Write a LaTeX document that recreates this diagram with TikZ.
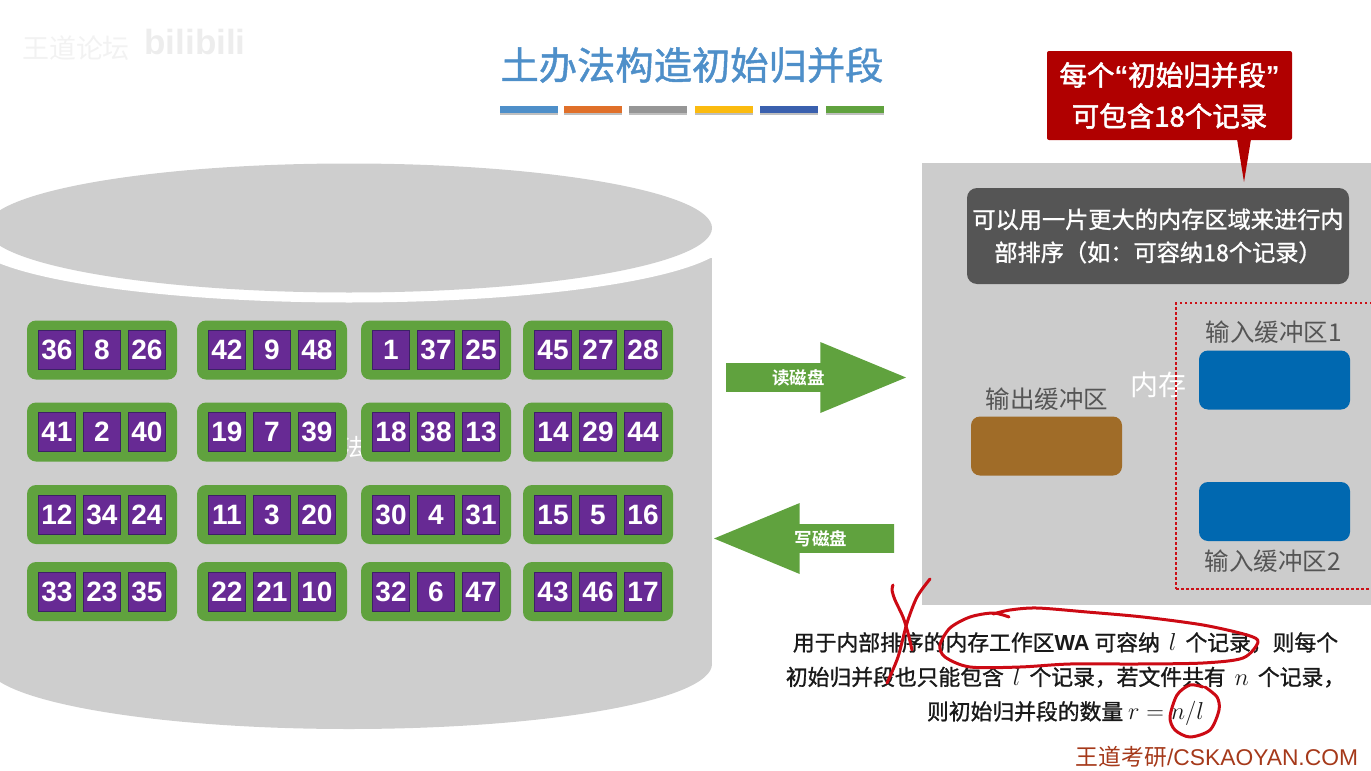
\documentclass[tikz,border=0pt]{standalone}
\usepackage{fontspec}
\usepackage{amsmath}
\setmainfont[BoldFont={Noto Sans CJK SC Bold}]{Noto Sans CJK SC}
\newfontfamily\medfont[FakeBold=1.2]{Noto Sans CJK SC}
\newfontfamily\notefont[FakeBold=2]{Noto Sans CJK SC}
\newfontfamily\latfont{Liberation Sans}
\newcommand{\rulemath}[1]{\scalebox{1.18}{$#1$}}
\usetikzlibrary{positioning,shapes.geometric,shapes.arrows,shadows}
\definecolor{DiskGray}{HTML}{CECECE}
\definecolor{PanelGray}{HTML}{CCCCCC}
\definecolor{RunGreen}{HTML}{60A23E}
\definecolor{CellPurple}{HTML}{672A94}
\definecolor{CellEdge}{HTML}{3C2166}
\definecolor{NoteRed}{HTML}{B00000}
\definecolor{DotRed}{HTML}{CC1018}
\definecolor{PenRed}{HTML}{CC0A14}
\definecolor{DarkBox}{HTML}{555555}
\definecolor{BufBrown}{HTML}{A06C28}
\definecolor{BufBlue}{HTML}{0068B0}
\definecolor{LabelGray}{HTML}{555555}
\definecolor{TitleBlue}{HTML}{4E8FC9}
\definecolor{BarOrange}{HTML}{E0702A}
\definecolor{BarGray}{HTML}{969696}
\definecolor{BarYellow}{HTML}{FBBB10}
\definecolor{BarBlue}{HTML}{3A60AE}
\definecolor{SiteRed}{HTML}{A5391A}

\begin{document}
\begin{tikzpicture}[x=1pt, y=-1pt, node distance=8pt, every node/.append style={inner sep=0pt, outer sep=0pt},
      diskpart/.style={ellipse, fill=DiskGray, minimum width=726pt, minimum height=130pt},
      recgroup/.style={fill=RunGreen, rounded corners=9pt, minimum width=150pt, minimum height=59pt},
      reccell/.style={fill=CellPurple, draw=CellEdge, line width=0.6pt, minimum width=37pt, minimum height=39pt,
        text=white, font=\fontsize{28}{30}\selectfont\latfont\bfseries},
      titlebar/.style={minimum width=58pt, minimum height=7pt,
        drop shadow={shadow xshift=0pt, shadow yshift=-1.5pt, opacity=0.25, fill=black}},
      diskarrow/.style={single arrow, fill=RunGreen, minimum height=180pt, minimum width=71pt, inner ysep=5pt,
        single arrow head extend=20pt, single arrow tip angle=45, single arrow head indent=0pt,
        text=white, font=\fontsize{17.5}{19}\selectfont\bfseries},
      bufbox/.style={rounded corners=9pt, minimum width=151pt, minimum height=59pt},
      buflabel/.style={text=LabelGray, font=\fontsize{24.5}{27}\selectfont},
      penline/.style={draw=PenRed, line width=3pt, line cap=round, line join=round}]
    \useasboundingbox (0,0) rectangle (1371,771);
    \clip (0,0) rectangle (1371,771);

    \node (wmname) [text=black!5, font=\fontsize{27}{29}\selectfont] at (76,48) {王道论坛};
    \node (wmlogo) [text=black!7, font=\fontsize{35}{37}\selectfont\latfont\bfseries] at (195,42) {bilibili};

    \node (title) [text=TitleBlue, font=\fontsize{38.3}{40}\selectfont\medfont] at (692,65) {土办法构造初始归并段};
    \node (bar1) [titlebar, fill=TitleBlue] at (528.5,109.5) {};
    \node (bar2) [titlebar, fill=BarOrange] at (592.5,109.5) {};
    \node (bar3) [titlebar, fill=BarGray] at (658,109.5) {};
    \node (bar4) [titlebar, fill=BarYellow] at (723.5,109.5) {};
    \node (bar5) [titlebar, fill=BarBlue] at (788.5,109.5) {};
    \node (bar6) [titlebar, fill=RunGreen] at (854.5,109.5) {};

    \node (bodyend) [diskpart] at (349,664) {};
    \node (body) [fill=DiskGray, minimum width=726pt, minimum height=406pt, anchor=north] at (349,258) {};
    \node (gap) [ellipse, fill=white, minimum width=760pt, minimum height=129pt] at (349,238) {};
    \node (disktop) [diskpart, minimum height=129pt] at (349,228) {};
    \node (hidden) [text=white, font=\fontsize{24}{26}\selectfont] at (353,447) {法};

    \node (g11) [recgroup] at (102,350) {}; \node (n8) [reccell] at (g11) {8}; \node (n36) [reccell, left=of n8] {36}; \node (n26) [reccell, right=of n8] {26};
    \node (g12) [recgroup] at (272,350) {}; \node (n9) [reccell] at (g12) {9}; \node (n42) [reccell, left=of n9] {42}; \node (n48) [reccell, right=of n9] {48};
    \node (g13) [recgroup] at (436,350) {}; \node (n37) [reccell] at (g13) {37}; \node (n1) [reccell, left=of n37] {1}; \node (n25) [reccell, right=of n37] {25};
    \node (g14) [recgroup] at (598,350) {}; \node (n27) [reccell] at (g14) {27}; \node (n45) [reccell, left=of n27] {45}; \node (n28) [reccell, right=of n27] {28};
    \node (g21) [recgroup] at (102,432) {}; \node (n2) [reccell] at (g21) {2}; \node (n41) [reccell, left=of n2] {41}; \node (n40) [reccell, right=of n2] {40};
    \node (g22) [recgroup] at (272,432) {}; \node (n7) [reccell] at (g22) {7}; \node (n19) [reccell, left=of n7] {19}; \node (n39) [reccell, right=of n7] {39};
    \node (g23) [recgroup] at (436,432) {}; \node (n38) [reccell] at (g23) {38}; \node (n18) [reccell, left=of n38] {18}; \node (n13) [reccell, right=of n38] {13};
    \node (g24) [recgroup] at (598,432) {}; \node (n29) [reccell] at (g24) {29}; \node (n14) [reccell, left=of n29] {14}; \node (n44) [reccell, right=of n29] {44};
    \node (g31) [recgroup] at (102,514.5) {}; \node (n34) [reccell] at (g31) {34}; \node (n12) [reccell, left=of n34] {12}; \node (n24) [reccell, right=of n34] {24};
    \node (g32) [recgroup] at (272,514.5) {}; \node (n3) [reccell] at (g32) {3}; \node (n11) [reccell, left=of n3] {11}; \node (n20) [reccell, right=of n3] {20};
    \node (g33) [recgroup] at (436,514.5) {}; \node (n4) [reccell] at (g33) {4}; \node (n30) [reccell, left=of n4] {30}; \node (n31) [reccell, right=of n4] {31};
    \node (g34) [recgroup] at (598,514.5) {}; \node (n5) [reccell] at (g34) {5}; \node (n15) [reccell, left=of n5] {15}; \node (n16) [reccell, right=of n5] {16};
    \node (g41) [recgroup] at (102,591.5) {}; \node (n23) [reccell] at (g41) {23}; \node (n33) [reccell, left=of n23] {33}; \node (n35) [reccell, right=of n23] {35};
    \node (g42) [recgroup] at (272,591.5) {}; \node (n21) [reccell] at (g42) {21}; \node (n22) [reccell, left=of n21] {22}; \node (n10) [reccell, right=of n21] {10};
    \node (g43) [recgroup] at (436,591.5) {}; \node (n6) [reccell] at (g43) {6}; \node (n32) [reccell, left=of n6] {32}; \node (n47) [reccell, right=of n6] {47};
    \node (g44) [recgroup] at (598,591.5) {}; \node (n46) [reccell] at (g44) {46}; \node (n43) [reccell, left=of n46] {43}; \node (n17) [reccell, right=of n46] {17};

    \node (readarrow) [diskarrow, anchor=tip] at (906,377.5) {读磁盘};
    \node (writearrow) [diskarrow, shape border rotate=180, anchor=tip] at (714,538.5) {写磁盘};

    \node (memory) [fill=PanelGray, minimum width=470pt, minimum height=442pt, anchor=north west] at (922,163) {};
    \node (hint) [fill=DarkBox, rounded corners=10pt, minimum width=382pt, minimum height=96pt, align=center,
      text=white, font=\fontsize{23.2}{33}\selectfont\medfont] at (1158,236) {可以用一片更大的内存区域来进行内\\部排序（如：可容纳18个记录）};
    \node (note) [fill=NoteRed, rounded corners=2pt, minimum width=245pt, minimum height=89pt, align=center,
      text=white, font=\fontsize{27.5}{41}\selectfont\notefont] at (1169.5,95.5) {每个{\latfont\bfseries“}初始归并段{\latfont\bfseries”}\\可包含18个记录};
    \fill [NoteRed] (1237,139) -- (1244,182) -- (1251,139) -- cycle;

    \node (memlabel) [text=white, font=\fontsize{28}{30}\selectfont] at (1158,385) {内存};
    \node (outlabel) [buflabel] at (1047,399) {输出缓冲区};
    \node (outbuf) [bufbox, fill=BufBrown] at (1046.5,446) {};
    \node (inlabel1) [buflabel] at (1274,332) {输入缓冲区1};
    \node (inbuf1) [bufbox, fill=BufBlue] at (1274.5,380) {};
    \node (inbuf2) [bufbox, fill=BufBlue] at (1274.5,511.5) {};
    \node (inlabel2) [buflabel] at (1273,561) {输入缓冲区2};
    \node (inputs) [draw=DotRed, line width=2.5pt, dash pattern=on 2.5pt off 2.5pt, minimum width=220pt, minimum height=286pt,
      anchor=north west] at (1176,303) {};

    \node (rule) [align=center, text=black!90, font=\fontsize{21.8}{34.5}\selectfont\medfont] at (1065.5,679) {用于内部排序的内存工作区{\latfont\bfseries WA} 可容纳 \rulemath{\,l\,} 个记录，则每个\\初始归并段也只能包含 \rulemath{\,l\,} 个记录，若文件共有 \rulemath{\,n\,} 个记录，\\则初始归并段的数量 \rulemath{r=n/l}};
    \node (site) [text=SiteRed, font=\fontsize{22.8}{25}\selectfont, anchor=east] at (1358,757) {王道考研{\latfont /CSKAOYAN.COM}};

    \draw [penline] plot [smooth] coordinates {(893,585) (892,590) (895,600) (903,617) (908,633) (912,650)};
    \draw [penline] plot [smooth] coordinates {(930,579) (917,597) (907,623) (898,657) (887,683)};
    \draw [penline] plot [smooth] coordinates {(1009,617) (993,613) (970,617) (950,628) (940,645) (945,657) (970,667) (1020,667)
      (1070,664) (1137,664) (1203,663) (1243,658) (1258,642) (1247,635) (1203,625) (1143,617) (1087,612) (1037,608) (1010,610) (993,614)};
    \draw [penline] plot [smooth] coordinates {(1203,687) (1190,685) (1177,695) (1170,717) (1175,730) (1190,737) (1210,730) (1219,710) (1217,697) (1205,687)};
\end{tikzpicture}
\end{document}
